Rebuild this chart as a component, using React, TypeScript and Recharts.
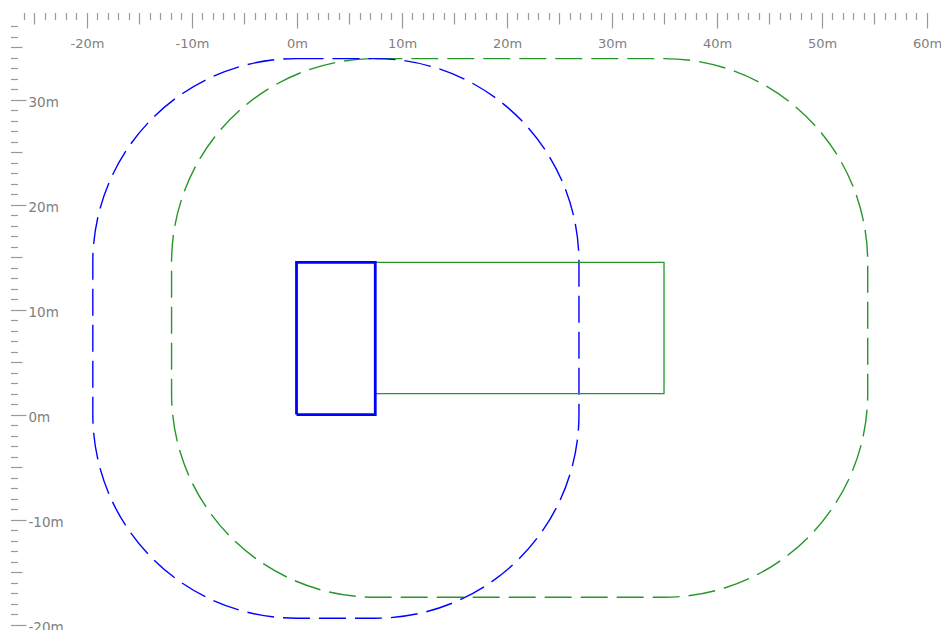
import React from 'react';
import { ComposedChart, Line, XAxis, YAxis, ReferenceArea } from 'recharts';

// ruler graduations (metres)
const xRuler = { from: -26, to: 60 };
const yRuler = { from: -20, to: 37 };
const xLabels = [-20, -10, 0, 10, 20, 30, 40, 50, 60];
const yLabels = [-20, -10, 0, 10, 20, 30];

// view extents in metres
const xDomain = [-28.24, 61.38];
const yDomain = [-20.52, 39.48];

// footprints (closed polygons)
const blueBox = [
  { x: 0, y: 0 },
  { x: 0, y: 14.5 },
  { x: 7.5, y: 14.5 },
  { x: 7.5, y: 0 },
  { x: 0, y: 0 },
];
const greenBox = [
  { x: 7.5, y: 2 },
  { x: 7.5, y: 14.5 },
  { x: 35, y: 14.5 },
  { x: 35, y: 2 },
  { x: 7.5, y: 2 },
];

// clearance around each footprint
const bufferDist = 19.4;

const BLUE = '#0000ff';
const GREEN = '#27962a';
const TICK = '#999999';
const LABEL = '#808080';
const FONT = '"DejaVu Sans", sans-serif';

const range = (a: number, b: number) => {
  const out: number[] = [];
  for (let v = a; v <= b; v++) out.push(v);
  return out;
};

const tickLen = (v: number) => (v % 10 === 0 ? 15.5 : v % 5 === 0 ? 11.5 : 7);

const TopTick = (props: any) => {
  const v = props.payload.value;
  const x = Math.round(props.x) + 0.5;
  return (
    <g>
      <line x1={x} x2={x} y1={13} y2={13 + tickLen(v)} stroke={TICK} strokeWidth={1.2} />
      {xLabels.includes(v) && (
        <text x={x} y={47.5} textAnchor="middle" fill={LABEL} fontSize={13} fontFamily={FONT}>
          {v}m
        </text>
      )}
    </g>
  );
};

const LeftTick = (props: any) => {
  const v = props.payload.value;
  const y = Math.round(props.y) + 0.5;
  return (
    <g>
      <line x1={11} x2={11 + tickLen(v)} y1={y} y2={y} stroke={TICK} strokeWidth={1.2} />
      {yLabels.includes(v) && (
        <text x={28.5} y={y + 6} textAnchor="start" fill={LABEL} fontSize={13.5} fontFamily={FONT}>
          {v}m
        </text>
      )}
    </g>
  );
};

const extent = (pts: { x: number; y: number }[], pad: number) => {
  const xs = pts.map((p) => p.x);
  const ys = pts.map((p) => p.y);
  return {
    x1: Math.min(...xs) - pad,
    x2: Math.max(...xs) + pad,
    y1: Math.min(...ys) - pad,
    y2: Math.max(...ys) + pad,
  };
};

const bufferShape = (area: { x1: number; x2: number; y1: number; y2: number }, color: string) => (p: any) => {
  const rx = (bufferDist * p.width) / (area.x2 - area.x1);
  const ry = (bufferDist * p.height) / (area.y2 - area.y1);
  return (
    <rect
      x={p.x}
      y={p.y}
      width={p.width}
      height={p.height}
      rx={rx}
      ry={ry}
      fill="none"
      stroke={color}
      strokeWidth={1.4}
      strokeDasharray="27 9"
    />
  );
};

export default function App() {
  const greenBuf = extent(greenBox, bufferDist);
  const blueBuf = extent(blueBox, bufferDist);
  return (
    <div style={{ position: 'absolute', left: 0, top: 0, background: '#fff' }}>
      {/* axes get 1px so they render; negative margin keeps the plot at 941x630 */}
      <ComposedChart width={941} height={630} margin={{ top: -1, right: 0, bottom: 0, left: -1 }}>
        <XAxis
          type="number"
          dataKey="x"
          orientation="top"
          height={1}
          domain={xDomain}
          allowDataOverflow
          ticks={range(xRuler.from, xRuler.to)}
          interval={0}
          axisLine={false}
          tickLine={false}
          tick={<TopTick />}
        />
        <YAxis
          type="number"
          dataKey="y"
          width={1}
          domain={yDomain}
          allowDataOverflow
          ticks={range(yRuler.from, yRuler.to)}
          interval={0}
          axisLine={false}
          tickLine={false}
          tick={<LeftTick />}
        />
        <ReferenceArea {...greenBuf} shape={bufferShape(greenBuf, GREEN)} ifOverflow="visible" />
        <ReferenceArea {...blueBuf} shape={bufferShape(blueBuf, BLUE)} ifOverflow="visible" />
        <Line
          data={greenBox}
          dataKey="y"
          type="linear"
          stroke={GREEN}
          strokeWidth={1.3}
          dot={false}
          activeDot={false}
          isAnimationActive={false}
        />
        <Line
          data={blueBox}
          dataKey="y"
          type="linear"
          stroke={BLUE}
          strokeWidth={2.8}
          dot={false}
          activeDot={false}
          isAnimationActive={false}
        />
      </ComposedChart>
    </div>
  );
}
